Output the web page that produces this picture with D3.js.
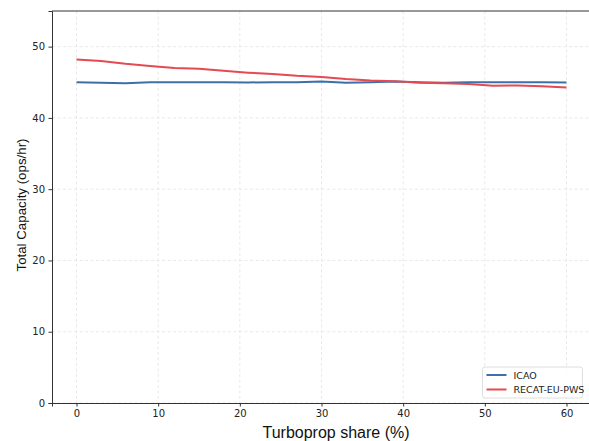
<!DOCTYPE html>
<html>
<head>
<meta charset="utf-8">
<script src="https://cdn.jsdelivr.net/npm/d3@7"></script>
<style>
  body { margin: 0; background: #fff; }
  svg { display: block; font-family: "DejaVu Sans", sans-serif; }
</style>
</head>
<body>
<div id="chart"></div>
<script>
// turboprop share (%) sampled every 3 points
const shares = [0, 3, 6, 9, 12, 15, 18, 21, 24, 27, 30, 33, 36, 39, 42, 45, 48, 51, 54, 57, 60];
const icao = [45.0, 44.95, 44.85, 45.0, 45.0, 45.0, 45.0, 44.98, 45.0, 45.0, 45.1, 44.95, 45.0, 45.1, 45.0, 44.95, 45.0, 45.0, 45.0, 45.0, 44.98];
const recat = [48.2, 48.0, 47.6, 47.3, 47.0, 46.9, 46.6, 46.35, 46.15, 45.9, 45.75, 45.45, 45.25, 45.15, 44.95, 44.85, 44.75, 44.5, 44.55, 44.45, 44.25];
const xTicks = [0, 10, 20, 30, 40, 50, 60];
const yTicks = [0, 10, 20, 30, 40, 50];
const seriesNames = ["ICAO", "RECAT-EU-PWS"];
const seriesColors = ["#3d6fab", "#e34a51"];

const width = 589, height = 441;
const margin = { top: 11, right: -2, bottom: 38, left: 52 };
const innerW = width - margin.left - margin.right;
const innerH = height - margin.top - margin.bottom;

const svg = d3.select("#chart").append("svg")
  .attr("width", width)
  .attr("height", height);

const g = svg.append("g")
  .attr("transform", "translate(" + margin.left + "," + margin.top + ")");

const x = d3.scaleLinear().domain([-3, 63]).range([0, innerW]);
const y = d3.scaleLinear().domain([0, 55]).range([innerH, 0]);

// grid
g.append("g").selectAll("line").data(xTicks).enter().append("line")
  .attr("x1", d => x(d)).attr("x2", d => x(d))
  .attr("y1", 0).attr("y2", innerH)
  .attr("stroke", "#e3e3e3").attr("stroke-width", 0.8)
  .attr("stroke-dasharray", "3,2.5");
g.append("g").selectAll("line").data(yTicks).enter().append("line")
  .attr("x1", 0).attr("x2", innerW)
  .attr("y1", d => y(d)).attr("y2", d => y(d))
  .attr("stroke", "#e3e3e3").attr("stroke-width", 0.8)
  .attr("stroke-dasharray", "3,2.5");

// lines
const line = d3.line()
  .x((d, i) => x(shares[i]))
  .y(d => y(d));

[icao, recat].forEach((vals, k) => {
  g.append("path")
    .datum(vals)
    .attr("fill", "none")
    .attr("stroke", seriesColors[k])
    .attr("stroke-width", 2)
    .attr("stroke-linejoin", "round")
    .attr("d", line);
});

// axes
const xAxis = g.append("g")
  .attr("transform", "translate(0," + innerH + ")")
  .call(d3.axisBottom(x).tickValues(xTicks).tickSize(3.5).tickPadding(3.5));
const yAxis = g.append("g")
  .call(d3.axisLeft(y).tickValues(yTicks).tickSize(3.5).tickPadding(3.5));

[xAxis, yAxis].forEach(a => {
  a.select(".domain").attr("stroke", "#333").attr("stroke-width", 1);
  a.selectAll(".tick line").attr("stroke", "#333");
  a.selectAll(".tick text")
    .attr("fill", "#222")
    .style("font-size", "10px")
    .style("font-family", "DejaVu Sans, sans-serif");
});

// frame (top & right spines)
g.append("line")
  .attr("x1", 0).attr("x2", innerW).attr("y1", 0).attr("y2", 0)
  .attr("stroke", "#333").attr("stroke-width", 1);
g.append("line")
  .attr("x1", innerW).attr("x2", innerW).attr("y1", 0).attr("y2", innerH)
  .attr("stroke", "#333").attr("stroke-width", 1);

// axis labels
svg.append("text")
  .attr("x", 336)
  .attr("y", 437.5)
  .attr("text-anchor", "middle")
  .style("font-family", "Liberation Sans, Arial, sans-serif")
  .style("font-size", "16px")
  .attr("fill", "#111")
  .text("Turboprop share (%)");

svg.append("text")
  .attr("transform", "translate(26,205) rotate(-90)")
  .attr("text-anchor", "middle")
  .style("font-family", "Liberation Sans, Arial, sans-serif")
  .style("font-size", "13.3px")
  .attr("fill", "#111")
  .text("Total Capacity (ops/hr)");

// legend
const legend = svg.append("g").attr("transform", "translate(482.5,367)");
legend.append("rect")
  .attr("width", 100).attr("height", 31)
  .attr("rx", 2.5)
  .attr("fill", "#fff").attr("fill-opacity", 0.85)
  .attr("stroke", "#d5d5d5").attr("stroke-width", 0.8);
seriesNames.forEach((name, i) => {
  const ly = 8 + i * 14.5;
  legend.append("line")
    .attr("x1", 4).attr("x2", 24)
    .attr("y1", ly).attr("y2", ly)
    .attr("stroke", seriesColors[i]).attr("stroke-width", 2);
  legend.append("text")
    .attr("x", 31).attr("y", ly + 3.5)
    .style("font-size", "9.5px")
    .style("font-family", "DejaVu Sans, sans-serif")
    .attr("fill", "#222")
    .text(name);
});
</script>
</body>
</html>
